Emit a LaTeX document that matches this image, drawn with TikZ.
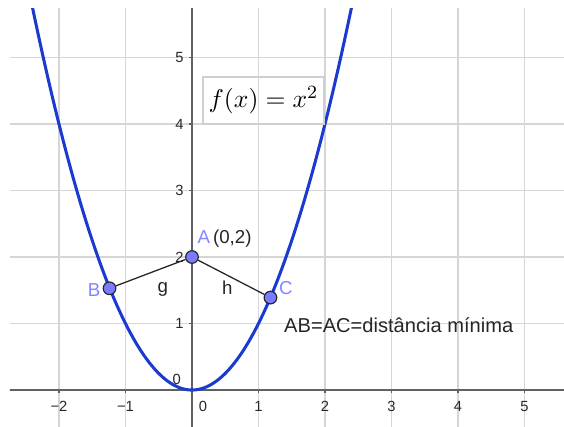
\documentclass[tikz,border=0pt]{standalone}
\usepackage{fontspec}
\setmainfont{Liberation Sans}

\begin{document}
\begin{tikzpicture}[every node/.style={align=center}]
  \definecolor{ink}{HTML}{262626}
  \definecolor{curve}{HTML}{1A3AD0}
  \definecolor{gridgray}{HTML}{D6D6D6}
  \definecolor{axisgray}{HTML}{616161}
  \definecolor{boxgray}{HTML}{CFCFCF}
  \definecolor{dotfill}{HTML}{7B7BFF}
  \definecolor{dotlabel}{HTML}{8585FF}
  \tikzset{
    dot/.style={circle,fill=dotfill,draw=ink,line width=.5pt,inner sep=0pt,minimum size=.19cm},
    ticklabel/.style={text=ink,font=\fontsize{6.3}{7}\selectfont,inner sep=0pt},
    ptlabel/.style={text=dotlabel,font=\fontsize{8}{9}\selectfont,inner sep=0pt,anchor=base},
    seglabel/.style={text=ink,font=\fontsize{8}{9}\selectfont,inner sep=0pt,anchor=base}
  }
  \useasboundingbox (-2.887,-0.541) rectangle (5.594,5.865);
  % Grid, axes and the parabola are cut to the graphics view.
  \begin{scope}
    \clip (-2.737,-0.541) rectangle (5.594,5.744);
    \foreach \x in {-2,...,5} \draw[gridgray,line width=.8pt] (\x,-1) -- (\x,6);
    \foreach \y in {1,...,5} \draw[gridgray,line width=.8pt] (-3,\y) -- (6,\y);
    \draw[axisgray,line width=1pt] (-3,0) -- (6,0);
    \draw[axisgray,line width=1pt] (0,-1) -- (0,6);
    \draw[curve,line width=1.3pt,domain=-2.45:2.45,samples=120,smooth] plot (\x,{\x*\x});
  \end{scope}
  % Ticks and their numbers.
  \foreach \x in {-2,-1,1,2,3,4,5} \draw[axisgray,line width=.8pt] (\x,0) -- (\x,-.05);
  \foreach \y in {1,...,5} \draw[axisgray,line width=.8pt] (0,\y) -- (-.05,\y);
  \foreach \x/\t in {-2/−2,-1/−1,1/1,2/2,3/3,4/4,5/5}
    \node[ticklabel,anchor=base] (xl\x) at (\x,-.316) {\t};
  \node[ticklabel,anchor=base] (xl0) at (.165,-.316) {0};
  \foreach \y in {1,...,5}
    \node[ticklabel,anchor=base east] (yl\y) at (-.12,\y-.075) {\y};
  \node[ticklabel,anchor=base] (yl0) at (-.23,.08) {0};
  % The function box.
  \node[draw=boxgray,line width=.6pt,inner sep=0pt,minimum width=1.82cm,minimum height=.71cm,font=\fontsize{10.95}{13}\selectfont] (fbox) at (1.075,4.355) {$f(x) = x^2$};
  % A on the axis, B and C on the curve at the least distance.
  \node[dot] (A) at (0,2) {};
  \node[dot] (B) at (-1.24,1.53) {};
  \node[dot] (C) at (1.18,1.39) {};
  \draw[ink,line width=.55pt] (A) -- (B);
  \draw[ink,line width=.55pt] (A) -- (C);
  \node[ptlabel] (Alab) at (.18,2.21) {A};
  \node[ptlabel,text=ink,anchor=base west] (Acoord) at (.31,2.21) {(0,2)};
  \node[ptlabel] (Blab) at (-1.47,1.41) {B};
  \node[ptlabel] (Clab) at (1.41,1.43) {C};
  \node[seglabel] (g) at (-.44,1.47) {g};
  \node[seglabel] (h) at (.53,1.44) {h};
  \node[text=ink,font=\fontsize{8.6}{10}\selectfont,inner sep=0pt,anchor=base west] (note) at (1.38,.87) {AB=AC=distância mínima};
\end{tikzpicture}
\end{document}
